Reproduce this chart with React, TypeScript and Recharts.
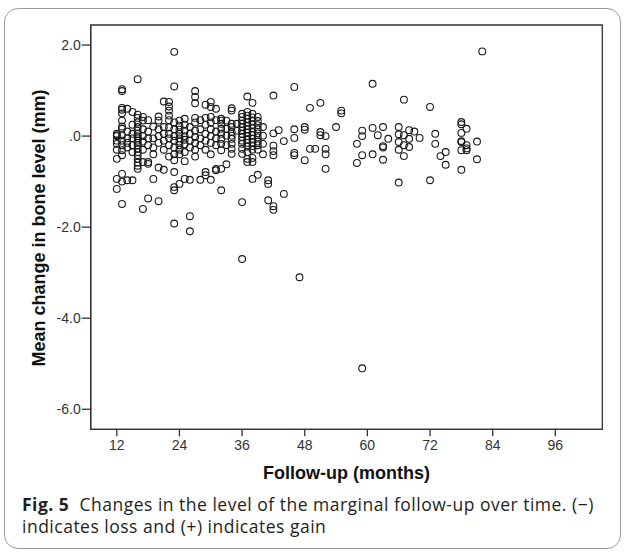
import { ScatterChart, Scatter, XAxis, YAxis, ReferenceArea } from 'recharts';

type Pt = [number, number];

const xTicks = [12, 24, 36, 48, 60, 72, 84, 96];
const yTicks = [-6, -4, -2, 0, 2];

// follow-up months 12-20
const early: Pt[] = [
  [12, 0.05], [12, 0.0], [12, 0.02], [12, -0.1], [12, -0.17], [12, -0.3], [12, -0.5], [12, -0.94], [12, -1.16],
  [13, 1.03], [13, 0.99], [13, 0.62], [13, 0.58], [13, 0.5], [13, 0.34], [13, 0.21], [13, 0.16], [13, 0.02],
  [13, -0.1], [13, -0.2], [13, -0.31], [13, -0.42], [13, -0.83], [13, -1.0], [13, -1.49],
  [14, 0.6], [14, 0.1], [14, -0.05], [14, -0.15], [14, -0.25], [14, -0.97],
  [15, 0.53], [15, 0.25], [15, 0.05], [15, -0.05], [15, -0.2], [15, -0.35], [15, -0.97],
  [16, 1.25], [16, 0.47], [16, 0.4], [16, 0.3], [16, 0.2], [16, 0.12], [16, 0.05], [16, 0.0], [16, -0.05],
  [16, -0.1], [16, -0.15], [16, -0.2], [16, -0.28], [16, -0.35], [16, -0.42], [16, -0.5], [16, -0.58],
  [16, -0.65], [16, -0.72],
  [17, 0.42], [17, 0.34], [17, 0.15], [17, 0.0], [17, -0.12], [17, -0.3], [17, -0.57], [17, -1.6],
  [18, 0.35], [18, 0.1], [18, -0.05], [18, -0.2], [18, -0.57], [18, -0.61], [18, -1.37],
  [19, 0.21], [19, -0.05], [19, -0.25], [19, -0.4], [19, -0.94],
  [20, 0.43], [20, 0.34], [20, 0.15], [20, 0.0], [20, -0.15], [20, -0.69], [20, -1.43],
];

// months 21-31
const mid: Pt[] = [
  [21, 0.76], [21, 0.2], [21, 0.05], [21, -0.1], [21, -0.3], [21, -0.74],
  [22, 0.75], [22, 0.65], [22, 0.56], [22, 0.45], [22, 0.35], [22, 0.19], [22, 0.05], [22, -0.05], [22, -0.2], [22, -0.45],
  [23, 1.85], [23, 1.09], [23, 0.3], [23, 0.15], [23, 0.0], [23, -0.1], [23, -0.25], [23, -0.4], [23, -0.53],
  [23, -0.79], [23, -1.12], [23, -1.19], [23, -1.92],
  [24, 0.34], [24, 0.23], [24, 0.14], [24, 0.05], [24, -0.05], [24, -0.12], [24, -0.2], [24, -0.3], [24, -0.4], [24, -1.05],
  [25, 0.38], [25, 0.25], [25, 0.12], [25, 0.0], [25, -0.08], [25, -0.18], [25, -0.35], [25, -0.55], [25, -0.94],
  [26, 0.2], [26, 0.05], [26, -0.1], [26, -0.25], [26, -0.96], [26, -1.76], [26, -2.09],
  [27, 0.99], [27, 0.86], [27, 0.72], [27, 0.4], [27, 0.3], [27, 0.12], [27, -0.02], [27, -0.15], [27, -0.3], [27, -0.45],
  [28, 0.35], [28, 0.15], [28, -0.05], [28, -0.2], [28, -0.96],
  [29, 0.69], [29, 0.4], [29, 0.25], [29, 0.05], [29, -0.1], [29, -0.3], [29, -0.79], [29, -0.86],
  [30, 0.75], [30, 0.64], [30, 0.42], [30, 0.3], [30, 0.15], [30, 0.0], [30, -0.15], [30, -0.4], [30, -0.96],
  [31, 0.6], [31, 0.35], [31, 0.1], [31, -0.05], [31, -0.2], [31, -0.72], [31, -0.75],
];

// months 32-44
const third: Pt[] = [
  [32, 0.38], [32, 0.34], [32, 0.27], [32, 0.16], [32, 0.05], [32, -0.06], [32, -0.17], [32, -0.31], [32, -0.72], [32, -1.19],
  [33, 0.34], [33, 0.16], [33, 0.01], [33, -0.2], [33, -0.62],
  [34, 0.61], [34, 0.56], [34, 0.27], [34, 0.2], [34, 0.09], [34, 0.01], [34, -0.06], [34, -0.17], [34, -0.28], [34, -0.39],
  [35, 0.27], [35, 0.12],
  [36, 0.49], [36, 0.42], [36, 0.34], [36, 0.27], [36, 0.2], [36, 0.12], [36, 0.05], [36, -0.02], [36, -0.1],
  [36, -0.17], [36, -0.28], [36, -0.39], [36, -1.45], [36, -2.7],
  [37, 0.87], [37, 0.53], [37, 0.45], [37, 0.38], [37, 0.3], [37, 0.22], [37, 0.15], [37, 0.08], [37, 0.0],
  [37, -0.08], [37, -0.15], [37, -0.23], [37, -0.35], [37, -0.5], [37, -0.57],
  [38, 0.73], [38, 0.49], [38, 0.41], [38, 0.33], [38, 0.25], [38, 0.17], [38, 0.09], [38, 0.02], [38, -0.06],
  [38, -0.14], [38, -0.22], [38, -0.3], [38, -0.48], [38, -0.57], [38, -0.94],
  [39, 0.42], [39, 0.33], [39, 0.24], [39, 0.15], [39, 0.06], [39, -0.03], [39, -0.12], [39, -0.2], [39, -0.3], [39, -0.85],
  [40, 0.2], [40, 0.01], [40, -0.17], [40, -0.4],
  [41, -0.97], [41, -1.05], [41, -1.41],
  [42, 0.89], [42, 0.06], [42, -0.21], [42, -0.33], [42, -0.42], [42, -1.54], [42, -1.62],
  [43, 0.13],
  [44, -0.11], [44, -1.27],
];

// months 46 and later
const late: Pt[] = [
  [46, 1.08], [46, 0.15], [46, -0.04], [46, -0.37], [46, -0.42],
  [47, -3.1],
  [48, 0.2], [48, 0.14], [48, -0.53],
  [49, 0.62], [49, -0.28],
  [50, -0.28],
  [51, 0.73], [51, 0.09], [51, 0.02],
  [52, 0.0], [52, -0.28], [52, -0.4], [52, -0.72],
  [54, 0.2],
  [55, 0.56], [55, 0.5],
  [58, -0.17], [58, -0.59],
  [59, 0.12], [59, 0.0], [59, -0.42], [59, -5.1],
  [61, 1.15], [61, 0.18], [61, -0.4],
  [62, 0.02],
  [63, 0.2], [63, -0.22], [63, -0.25], [63, -0.52],
  [64, -0.06],
  [66, 0.2], [66, 0.04], [66, -0.13], [66, -0.3], [66, -1.02],
  [67, 0.8], [67, 0.02], [67, -0.2], [67, -0.44],
  [68, 0.13], [68, -0.06], [68, -0.24],
  [69, 0.1],
  [70, -0.04],
  [72, 0.64], [72, -0.97],
  [73, 0.05], [73, -0.17],
  [74, -0.44],
  [75, -0.35], [75, -0.63],
  [78, 0.31], [78, 0.26], [78, 0.07], [78, -0.11], [78, -0.13], [78, -0.31], [78, -0.74],
  [79, 0.16], [79, -0.2], [79, -0.27], [79, -0.31],
  [81, -0.12], [81, -0.51],
  [82, 1.86],
];

const points = [...early, ...mid, ...third, ...late].map(([month, change]) => ({ month, change }));

const Ring = (props: any) => (
  <circle cx={props.cx} cy={props.cy} r={3.4} fill="none" stroke="#1a1a1a" strokeWidth={1.1} />
);

const tickStyle = { fill: '#333', fontSize: 14, fontFamily: 'Liberation Sans, Arial, sans-serif' };
const axisColor = '#333';

export default function App() {
  return (
    <div style={{ position: 'absolute', left: 0, top: 0, width: 624, height: 552, background: '#fff' }}>
      <div
        style={{
          position: 'absolute',
          left: 4,
          top: 8,
          width: 617,
          height: 541,
          boxSizing: 'border-box',
          border: '1px solid #9a9a9a',
          borderRadius: 14,
        }}
      />
      <ScatterChart width={624} height={552} margin={{ top: 25, right: 21.7, bottom: 0, left: 0 }}>
        <XAxis
          type="number"
          dataKey="month"
          domain={[7, 105]}
          allowDataOverflow
          ticks={xTicks}
          tick={tickStyle}
          tickSize={7}
          tickMargin={4}
          height={122.7}
          axisLine={{ stroke: axisColor, strokeWidth: 1.3 }}
          tickLine={{ stroke: axisColor, strokeWidth: 1.3 }}
        />
        <YAxis
          type="number"
          dataKey="change"
          domain={[-6.44, 2.44]}
          allowDataOverflow
          ticks={yTicks}
          tickFormatter={(v: number) => (v === 0 ? '.0' : v.toFixed(1))}
          tick={tickStyle}
          tickSize={9}
          tickMargin={1}
          width={90.7}
          axisLine={{ stroke: axisColor, strokeWidth: 1.3 }}
          tickLine={{ stroke: axisColor, strokeWidth: 1.3 }}
        />
        <ReferenceArea x1={7} x2={105} y1={-6.44} y2={2.44} fill="none" stroke={axisColor} strokeWidth={1.3} />
        <Scatter data={points} shape={Ring} isAnimationActive={false} />
      </ScatterChart>
      <div
        style={{
          position: 'absolute',
          left: 90.7,
          width: 511.6,
          top: 462,
          textAlign: 'center',
          fontFamily: 'Liberation Sans, Arial, sans-serif',
          fontWeight: 'bold',
          fontSize: 18,
          lineHeight: '22px',
          color: '#111',
        }}
      >
        Follow-up (months)
      </div>
      <div
        style={{
          position: 'absolute',
          left: 38.5 - 180,
          top: 228 - 11,
          width: 360,
          height: 22,
          textAlign: 'center',
          transform: 'rotate(-90deg)',
          fontFamily: 'Liberation Sans, Arial, sans-serif',
          fontWeight: 'bold',
          fontSize: 18,
          lineHeight: '22px',
          color: '#111',
        }}
      >
        Mean change in bone level (mm)
      </div>
      <div
        style={{
          position: 'absolute',
          left: 22,
          top: 493,
          width: 600,
          whiteSpace: 'nowrap',
          fontFamily: 'Open Sans, Noto Sans, sans-serif',
          fontSize: 17.5,
          letterSpacing: 0.5,
          lineHeight: '22px',
          color: '#231f20',
        }}
      >
        <b>Fig. 5</b>&nbsp; Changes in the level of the marginal follow-up over time. (−)
        <br />
        indicates loss and (+) indicates gain
      </div>
    </div>
  );
}
